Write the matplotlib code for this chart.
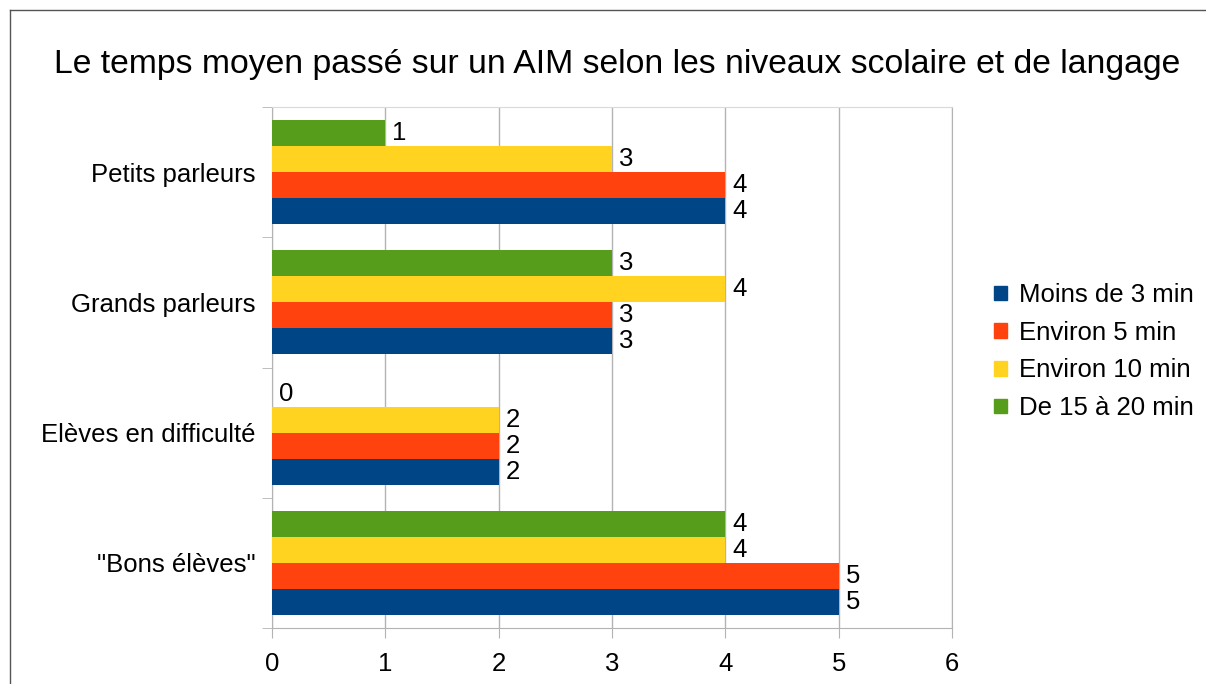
import matplotlib
matplotlib.use("Agg")
import matplotlib.pyplot as plt
from matplotlib.lines import Line2D
import numpy as np

plt.rcParams['font.family'] = ['Liberation Sans', 'DejaVu Sans']

categories = ['"Bons élèves"', 'Elèves en difficulté', 'Grands parleurs', 'Petits parleurs']
series_names = ['Moins de 3 min', 'Environ 5 min', 'Environ 10 min', 'De 15 à 20 min']
moins_3 = [5, 2, 3, 4]
environ_5 = [5, 2, 3, 4]
environ_10 = [4, 2, 4, 3]
de_15_20 = [4, 0, 3, 1]
colors = ['#004586', '#ff420e', '#ffd320', '#579d1c']
title = "Le temps moyen passé sur un AIM selon les niveaux scolaire et de langage"

series = [moins_3, environ_5, environ_10, de_15_20]

fig = plt.figure(figsize=(12.06, 6.84), dpi=100)
ax = fig.add_axes([272 / 1206, 1 - 628 / 684, 680 / 1206, 521 / 684])

y = np.arange(len(categories))
h = 0.2
offsets = [-0.3, -0.1, 0.1, 0.3]
for vals, name, c, off in zip(series, series_names, colors, offsets):
    bars = ax.barh(y + off, vals, height=h, color=c, label=name, zorder=3)
    for b, v in zip(bars, vals):
        ax.text(b.get_width() + 0.06, b.get_y() + h / 2, str(v),
                va='center', ha='left', fontsize=18.5, color='black', zorder=4)

ax.set_xlim(0, 6)
ax.set_ylim(-0.5, 3.5)
ax.set_xticks(range(7))
ax.tick_params(axis='x', labelsize=18.5, length=7, color='#b3b3b3', pad=10)
ax.set_yticks(y)
ax.set_yticklabels(categories)
ax.tick_params(axis='y', which='major', length=0, labelsize=18.5, pad=12)
ax.set_yticks(np.arange(-0.5, 4, 1), minor=True)
ax.tick_params(axis='y', which='minor', length=7, color='#b3b3b3')
ax.grid(axis='x', color='#b3b3b3', linewidth=1, zorder=0)
for s in ax.spines.values():
    s.set_color('#b3b3b3')
ax.spines['top'].set_color('#d9d9d9')

handles = [plt.Rectangle((0, 0), 1, 1, color=c) for c in colors]
fig.legend(handles, series_names, loc='center left', bbox_to_anchor=(0.805, 0.486),
           frameon=False, fontsize=18.5, handlelength=0.5, handleheight=0.5,
           handletextpad=0.47, labelspacing=0.53)

fig.text(0.512, 0.905, title, ha='center', va='center', fontsize=24.3)

fig.add_artist(Line2D([10 / 1206, 1], [1 - 10 / 684, 1 - 10 / 684], color='#555555', lw=1))
fig.add_artist(Line2D([10 / 1206, 10 / 1206], [0, 1 - 10 / 684], color='#555555', lw=1))

fig.savefig('out.png', dpi=100)
